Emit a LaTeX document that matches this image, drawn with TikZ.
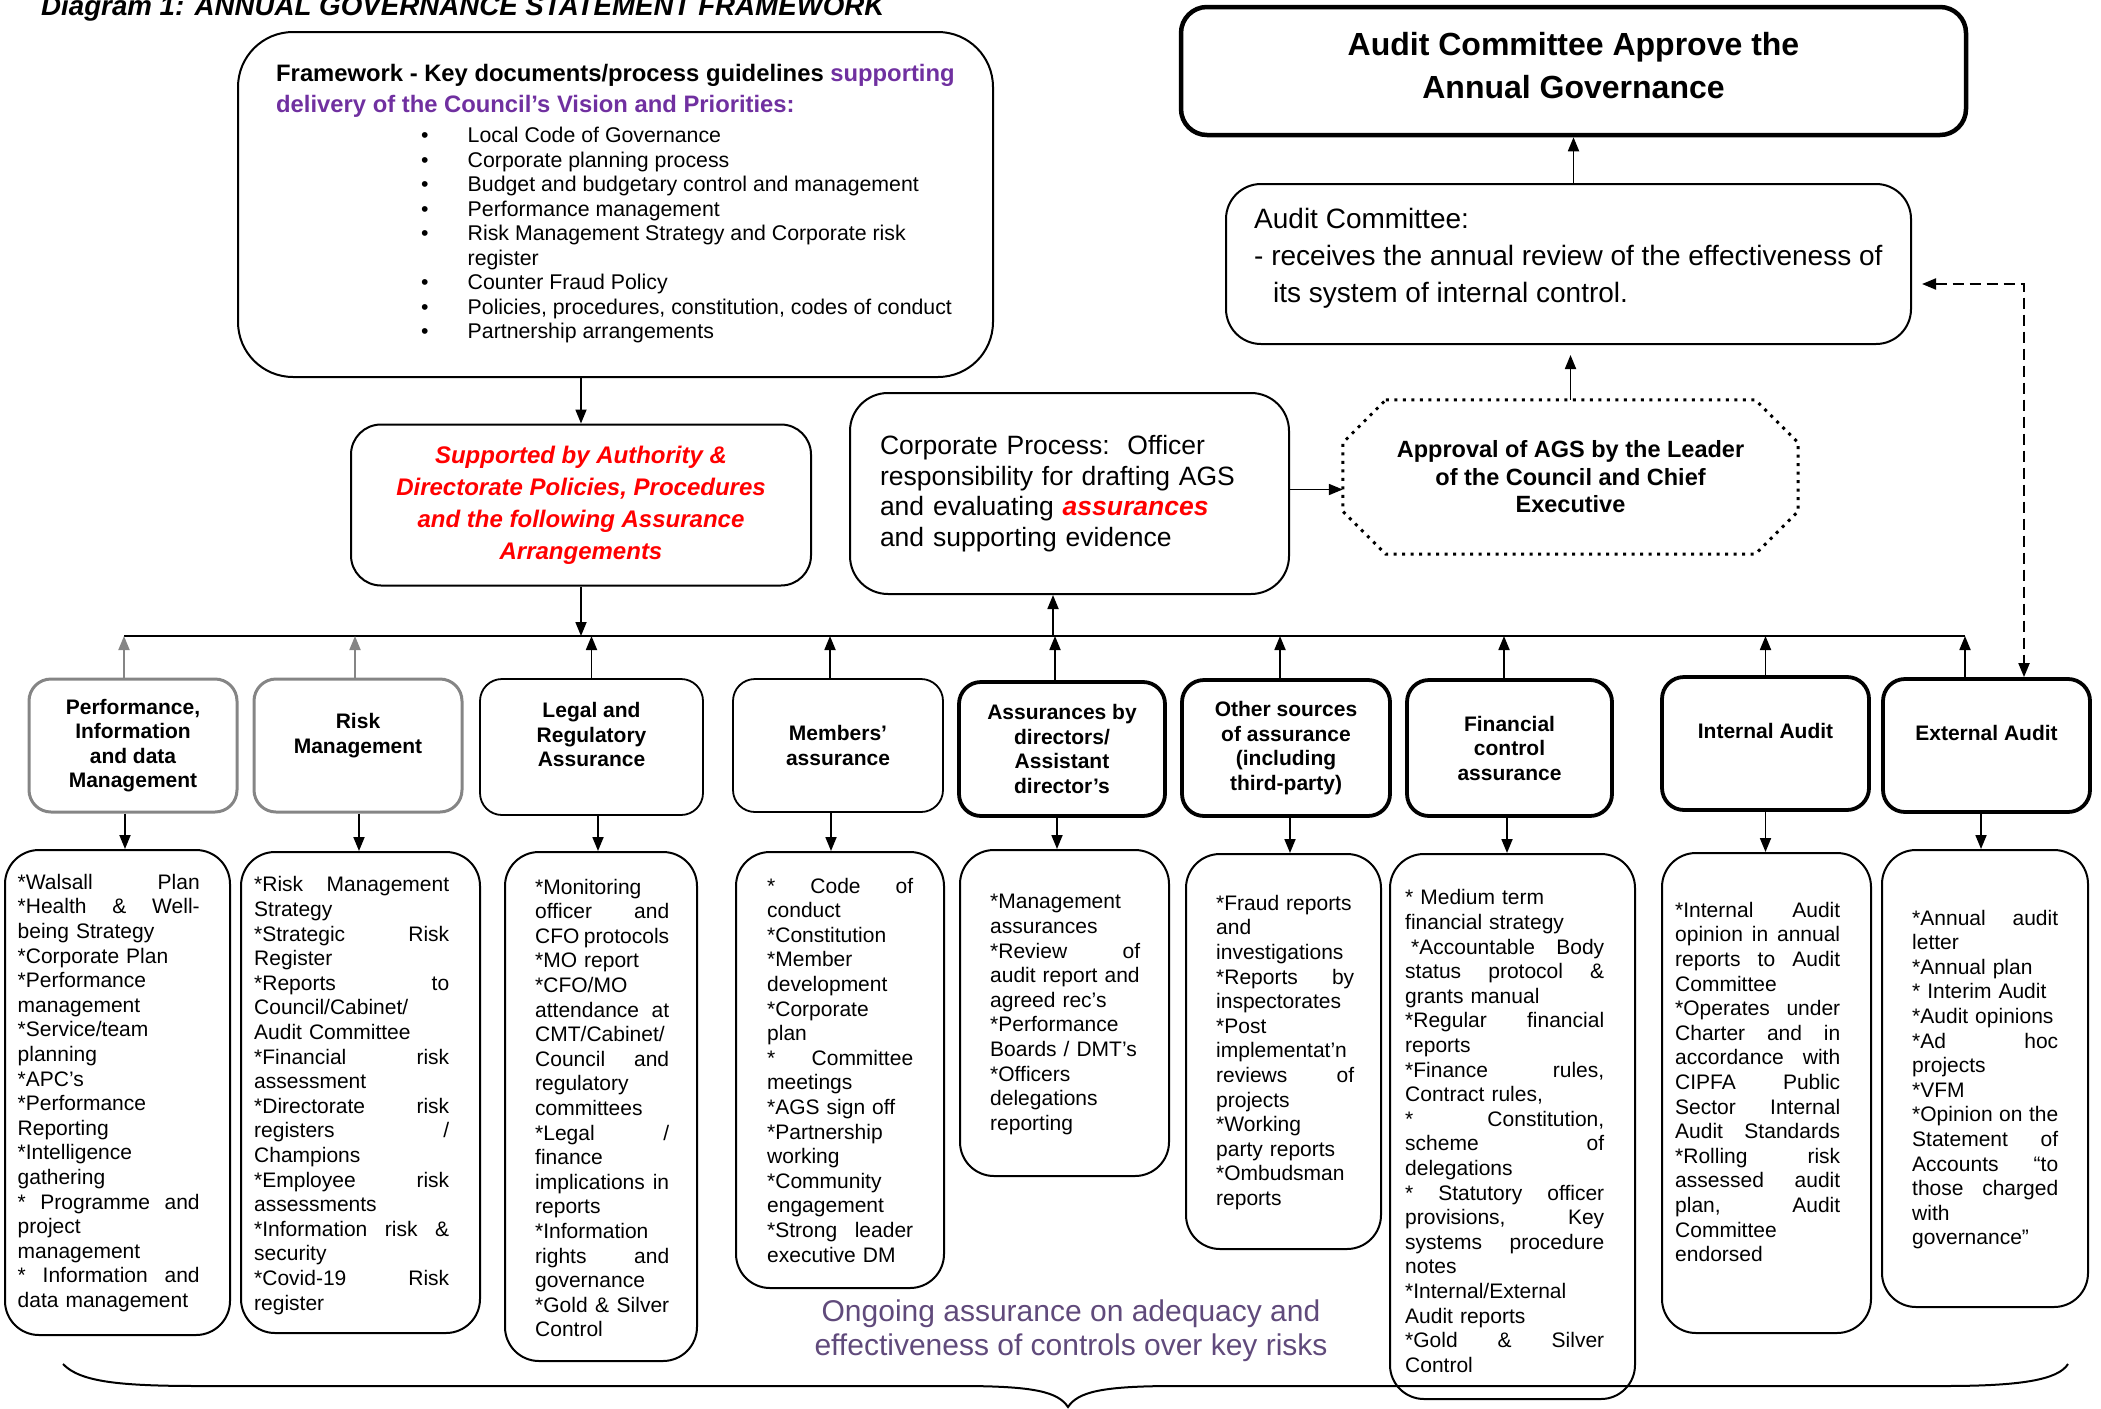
\documentclass[tikz,border=0pt]{standalone}
\usepackage{fontspec}
\setmainfont{Liberation Sans}
\usetikzlibrary{arrows.meta,calc}
\setlength{\parindent}{0pt}
\hyphenpenalty=10000
\exhyphenpenalty=10000
\definecolor{FrameGray}{HTML}{858585}
\definecolor{VisionPurple}{HTML}{7030A0}
\definecolor{OngoingPurple}{HTML}{604A7B}
\definecolor{PolicyRed}{HTML}{FF0000}
% justified gap inside a list line
\newcommand{\jgap}{\hspace{1.5pt plus 1fill}}

\begin{document}
\begin{tikzpicture}[x=1pt,y=-1pt,
      frame/.style={draw,line width=2pt,rounded corners=55pt,inner sep=0pt,
                    minimum width=755pt,minimum height=345pt},
      topbox/.style={draw,line width=4.5pt,rounded corners=26pt,minimum width=785pt,minimum height=128pt},
      acbox/.style={draw,line width=2pt,rounded corners=35pt,minimum width=685pt,minimum height=160pt},
      plain/.style={align=left,inner sep=0pt,anchor=west},
      cpbox/.style={draw,line width=2pt,rounded corners=38pt,align=left,text width=379pt,
                    inner xsep=30pt,minimum height=201pt,font=\fontsize{26.5}{30.7}\selectfont},
      redbox/.style={draw,line width=2pt,rounded corners=30pt,align=center,text=PolicyRed,
                     font=\fontsize{24}{32}\selectfont\bfseries\itshape,minimum width=460pt,minimum height=161pt},
      apprbox/.style={inner sep=0pt,align=center,font=\fontsize{23.5}{27.5}\selectfont\bfseries,
                      minimum width=455pt,minimum height=154pt},
      dots/.style={line width=3pt,dash pattern=on 3pt off 5.5pt},
      head/.style={draw,rounded corners=22pt,inner sep=0pt,align=center,
                   font=\fontsize{21}{24.5}\selectfont\bfseries},
      headgray/.style={head,draw=FrameGray,line width=3pt},
      headthin/.style={head,line width=1.8pt},
      headthick/.style={head,line width=3.8pt},
      list/.style={draw,line width=2pt,rounded corners=34pt},
      listtext/.style={align=left,inner sep=0pt,anchor=west,font=\fontsize{21}{24.6}\selectfont},
      go/.style={-{Triangle[length=14pt,width=11pt]},line width=1.8pt},
      gogray/.style={go,FrameGray},
      dashgo/.style={{Triangle[length=14pt,width=11pt]}-{Triangle[length=14pt,width=11pt]},
                     line width=2pt,dash pattern=on 11pt off 6pt}]
    \useasboundingbox (0,0) rectangle (2101,1408);

    % title and framework
    \node[anchor=base west,inner sep=0pt,font=\fontsize{27.7}{30}\selectfont\bfseries\itshape] (title)
      at (41,15) {Diagram 1: ANNUAL GOVERNANCE STATEMENT FRAMEWORK};
    \node[frame] (fw) at (615.5,204.5) {};
    \node[plain,font=\fontsize{23.8}{31}\selectfont\bfseries] (fwhead) at (276,91)
      {Framework - Key documents/process guidelines \textcolor{VisionPurple}{supporting}\\
       \textcolor{VisionPurple}{delivery of the Council’s Vision and Priorities:}};
    \node[plain,font=\fontsize{21.3}{24.5}\selectfont] (fwlist) at (421,235)
      {\makebox[46.5pt][l]{\textbullet}Local Code of Governance\\
       \makebox[46.5pt][l]{\textbullet}Corporate planning process\\
       \makebox[46.5pt][l]{\textbullet}Budget and budgetary control and management\\
       \makebox[46.5pt][l]{\textbullet}Performance management\\
       \makebox[46.5pt][l]{\textbullet}Risk Management Strategy and Corporate risk\\
       \makebox[46.5pt][l]{}register\\
       \makebox[46.5pt][l]{\textbullet}Counter Fraud Policy\\
       \makebox[46.5pt][l]{\textbullet}Policies, procedures, constitution, codes of conduct\\
       \makebox[46.5pt][l]{\textbullet}Partnership arrangements};

    % approval chain
    \node[topbox] (ags) at (1573.5,71) {};
    \node[align=center,font=\fontsize{32}{43}\selectfont\bfseries] (agstext) at (1573.5,66)
      {Audit Committee Approve the\\Annual Governance};
    \node[acbox] (ac) at (1568.5,264) {};
    \node[plain,font=\fontsize{28}{37}\selectfont] (actext) at (1254,258)
      {Audit Committee:\\- receives the annual review of the effectiveness of\\
       \hspace*{19pt}its system of internal control.};
    \node[redbox] (sup) at (581,505)
      {Supported by Authority \&\\Directorate Policies, Procedures\\and the following Assurance\\Arrangements};
    \node[cpbox] (cp) at (1069.5,493.5)
      {Corporate Process:\ \ Officer\\responsibility for drafting AGS\\
       and evaluating \textcolor{PolicyRed}{\bfseries\itshape assurances}\\and supporting evidence};
    \node[apprbox] (appr) at (1570.5,477)
      {Approval of AGS by the Leader\\of the Council and Chief\\Executive};
    \draw[dots] ($(appr.north west)+(43,0)$) -- ($(appr.north east)+(-43,0)$)
      -- ($(appr.north east)+(0,43)$) -- ($(appr.south east)+(0,-43)$)
      -- ($(appr.south east)+(-43,0)$) -- ($(appr.south west)+(43,0)$)
      -- ($(appr.south west)+(0,-43)$) -- ($(appr.north west)+(0,43)$) -- cycle;

    % assurance headings
    \node[headgray,minimum width=208pt,minimum height=133pt] (pim) at (133,745.5)
      {Performance,\\Information\\and data\\Management};
    \node[headgray,minimum width=208pt,minimum height=133pt] (risk) at (358,745.5)
      {Risk\\Management\\\mbox{}};
    \node[headthin,minimum width=223pt,minimum height=136pt] (legal) at (591.5,747)
      {Legal and\\Regulatory\\Assurance\\\mbox{}};
    \node[headthin,minimum width=210pt,minimum height=133pt] (memb) at (838,745.5)
      {Members’\\assurance};
    \node[headthick,minimum width=206pt,minimum height=134pt] (dirs) at (1062,749)
      {Assurances by\\directors/\\Assistant\\director’s};
    \node[headthick,minimum width=208pt,minimum height=136pt] (other) at (1286,748)
      {Other sources\\of assurance\\(including\\third-party)};
    \node[headthick,minimum width=205pt,minimum height=136pt] (fin) at (1509.5,748)
      {Financial\\control\\assurance};
    \node[headthick,minimum width=207pt,minimum height=133pt] (ia) at (1765.5,743.5)
      {Internal Audit\\\mbox{}};
    \node[headthick,minimum width=207pt,minimum height=133pt] (ea) at (1986.5,745.5)
      {External Audit\\\mbox{}};

    % assurance lists
    \node[list,minimum width=225pt,minimum height=485pt] (pimlist) at (117.5,1092.5) {};
    \node[listtext,text width=182pt] (pimtext) at (17.5,1093)
      {*Walsall\jgap Plan\\{*}Health\jgap \&\jgap Well-\\being Strategy\\{*}Corporate Plan\\
       {*}Performance\\management\\{*}Service/team\\planning\\{*}APC’s\\{*}Performance\\Reporting\\
       {*}Intelligence\\gathering\\{*}\jgap Programme\jgap and\\project\\management\\
       {*}\jgap Information\jgap and\\data management};
    \node[list,minimum width=239pt,minimum height=481pt] (risklist) at (360.5,1092.5) {};
    \node[listtext,text width=195pt] (risktext) at (254,1095.5)
      {*Risk\jgap Management\\Strategy\\{*}Strategic\jgap Risk\\Register\\{*}Reports\jgap to\\
       Council/Cabinet/\\Audit Committee\\{*}Financial\jgap risk\\assessment\\
       {*}Directorate\jgap risk\\registers\jgap /\\Champions\\{*}Employee\jgap risk\\assessments\\
       {*}Information\jgap risk\jgap \&\\security\\{*}Covid-19\jgap Risk\\register};
    \node[list,minimum width=192pt,minimum height=509pt] (legallist) at (601,1106.5) {};
    \node[listtext,text width=134pt] (legaltext) at (535,1108)
      {*Monitoring\\officer\jgap and\\CFO\jgap protocols\\{*}MO report\\{*}CFO/MO\\
       attendance\jgap at\\CMT/Cabinet/\\Council\jgap and\\regulatory\\committees\\
       {*}Legal\jgap /\\finance\\implications\jgap in\\reports\\{*}Information\\rights\jgap and\\
       governance\\{*}Gold\jgap \&\jgap Silver\\Control};
    \node[list,minimum width=208pt,minimum height=436pt] (memblist) at (840,1070) {};
    \node[listtext,text width=146pt] (membtext) at (767,1070)
      {*\jgap Code\jgap of\\conduct\\{*}Constitution\\{*}Member\\development\\{*}Corporate\\plan\\
       {*}\jgap Committee\\meetings\\{*}AGS sign off\\{*}Partnership\\working\\{*}Community\\
       engagement\\{*}Strong\jgap leader\\executive DM};
    \node[list,minimum width=209pt,minimum height=326pt] (dirslist) at (1064.5,1013) {};
    \node[listtext,text width=150pt] (dirstext) at (990,1014.5)
      {*Management\\assurances\\{*}Review\jgap of\\audit report and\\agreed rec’s\\
       {*}Performance\\Boards / DMT’s\\{*}Officers\\delegations\\reporting};
    \node[list,minimum width=195pt,minimum height=395pt] (otherlist) at (1283.5,1051.5) {};
    \node[listtext,text width=138pt] (othertext) at (1216,1052.5)
      {*Fraud reports\\and\\investigations\\{*}Reports\jgap by\\inspectorates\\{*}Post\\
       implementat’n\\reviews\jgap of\\projects\\{*}Working\\party reports\\{*}Ombudsman\\reports};
    \node[list,minimum width=245pt,minimum height=545pt] (finlist) at (1512.5,1126.5) {};
    \node[listtext,text width=199pt] (fintext) at (1405,1131)
      {* Medium term\\financial strategy\\\hspace*{6pt}*Accountable\jgap Body\\
       status\jgap protocol\jgap \&\\grants manual\\{*}Regular\jgap financial\\reports\\
       {*}Finance\jgap rules,\\Contract rules,\\{*}\jgap Constitution,\\scheme\jgap of\\
       delegations\\{*}\jgap Statutory\jgap officer\\provisions,\jgap Key\\
       systems\jgap procedure\\notes\\{*}Internal/External\\Audit reports\\
       {*}Gold\jgap \&\jgap Silver\\Control};
    \node[list,minimum width=209pt,minimum height=480pt] (ialist) at (1766.5,1093) {};
    \node[listtext,text width=165pt] (iatext) at (1675,1082)
      {*Internal\jgap Audit\\opinion\jgap in\jgap annual\\reports\jgap to\jgap Audit\\
       Committee\\{*}Operates\jgap under\\Charter\jgap and\jgap in\\accordance\jgap with\\
       CIPFA\jgap Public\\Sector\jgap Internal\\Audit\jgap Standards\\{*}Rolling\jgap risk\\
       assessed\jgap audit\\plan,\jgap Audit\\Committee\\endorsed};
    \node[list,minimum width=206pt,minimum height=457pt] (ealist) at (1985,1078.5) {};
    \node[listtext,text width=146pt] (eatext) at (1912,1079.5)
      {*Annual\jgap audit\\letter\\{*}Annual plan\\{*} Interim Audit\\{*}Audit opinions\\
       {*}Ad\jgap hoc\\projects\\{*}VFM\\{*}Opinion\jgap on\jgap the\\Statement\jgap of\\
       Accounts\jgap “to\\those\jgap charged\\with\\governance”};

    \node[font=\fontsize{30}{34}\selectfont,text=OngoingPurple,align=center] (ongoing) at (1071,1331)
      {Ongoing assurance on adequacy and\\effectiveness of controls over key risks};

    % connectors
    \coordinate (busL) at (124,636);
    \coordinate (busR) at (1965,636);
    \draw[line width=1.8pt] (busL) -- (busR);
    \draw[go] (fw.south -| sup.north) -- (sup.north);
    \draw[go] (sup.south) -- (sup.south |- busL);
    \draw[go] ($(dirs.north |- busL)+(-9,0)$) -- ($(dirs.north |- cp.south)+(-9,0)$);
    \draw[go] ($(cp.east)+(0,-4)$) -- ($(cp.east -| appr.west)+(0,-4)$);
    \draw[go,shorten >=10pt] (appr.north) -- (appr.north |- ac.south);
    \draw[go] (ac.north -| ags.south) -- (ags.south);
    \draw[dashgo] ($(ac.east)+(10,20)$) -| ($(ea.north)+(37.5,0)$);

    \draw[gogray] ($(pim.north)+(-9,0)$) -- ($(pim.north |- busL)+(-9,0)$);
    \draw[gogray] ($(risk.north)+(-3,0)$) -- ($(risk.north |- busL)+(-3,0)$);
    \draw[go] (legal.north) -- (legal.north |- busL);
    \draw[go] ($(memb.north)+(-8,0)$) -- ($(memb.north |- busL)+(-8,0)$);
    \draw[go] ($(dirs.north)+(-7,0)$) -- ($(dirs.north |- busL)+(-7,0)$);
    \draw[go] ($(other.north)+(-6,0)$) -- ($(other.north |- busL)+(-6,0)$);
    \draw[go] ($(fin.north)+(-5.5,0)$) -- ($(fin.north |- busL)+(-5.5,0)$);
    \draw[go] (ia.north) -- (ia.north |- busL);
    \draw[go] ($(ea.north)+(-21.5,0)$) -- ($(ea.north |- busL)+(-21.5,0)$);

    \draw[go] ($(pim.south)+(-8,0)$) -- ($(pim.south |- pimlist.north)+(-8,0)$);
    \draw[go] ($(risk.south)+(1,0)$) -- ($(risk.south |- risklist.north)+(1,0)$);
    \draw[go] ($(legal.south)+(6.5,0)$) -- ($(legal.south |- legallist.north)+(6.5,0)$);
    \draw[go] ($(memb.south)+(-7,0)$) -- ($(memb.south |- memblist.north)+(-7,0)$);
    \draw[go] ($(dirs.south)+(-5,0)$) -- ($(dirs.south |- dirslist.north)+(-5,0)$);
    \draw[go] ($(other.south)+(4,0)$) -- ($(other.south |- otherlist.north)+(4,0)$);
    \draw[go] ($(fin.south)+(-2.5,0)$) -- ($(fin.south |- finlist.north)+(-2.5,0)$);
    \draw[go] (ia.south) -- (ia.south |- ialist.north);
    \draw[go] ($(ea.south)+(-5.5,0)$) -- ($(ea.south |- ealist.north)+(-5.5,0)$);

    % brace under the lists
    \draw[line width=2pt] (63,1364) .. controls (80,1382) and (120,1386) .. (200,1386)
      -- (960,1386) .. controls (1035,1386) and (1058,1392) .. (1068,1407)
      .. controls (1078,1392) and (1101,1386) .. (1176,1386)
      -- (1944,1386) .. controls (2020,1386) and (2058,1380) .. (2068,1364);
  \end{tikzpicture}
\end{document}
